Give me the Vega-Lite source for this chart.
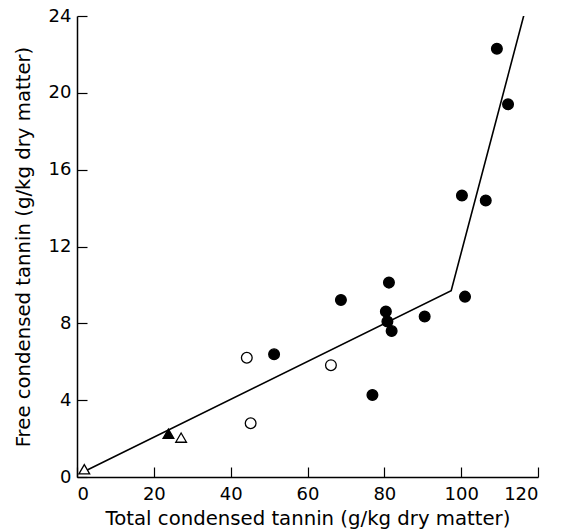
{
  "$schema": "https://vega.github.io/schema/vega-lite/v6.json",
  "autosize": "none",
  "width": 461,
  "height": 461,
  "padding": {"left": 77, "top": 16, "right": 24, "bottom": 53},
  "background": "white",
  "config": {
    "view": {"stroke": null},
    "font": "DejaVu Sans",
    "axis": {
      "grid": false,
      "domainColor": "black",
      "domainWidth": 1.5,
      "tickColor": "black",
      "tickWidth": 1.2,
      "tickSize": -10,
      "labelColor": "black",
      "labelFont": "DejaVu Sans",
      "labelFontSize": 18,
      "titleFont": "DejaVu Sans",
      "titleFontSize": 19.7,
      "titleFontWeight": "normal",
      "titleColor": "black"
    }
  },
  "layer": [
    {
      "data": {"values": [
        {"total": 2, "free": 0.3},
        {"total": 97.4, "free": 9.7},
        {"total": 116.4, "free": 24.1}
      ]},
      "mark": {"type": "line", "color": "black", "strokeWidth": 1.6, "clip": true},
      "encoding": {
        "x": {"field": "total", "type": "quantitative", "scale": {"domain": [0, 120], "nice": false},
              "axis": {"values": [0, 20, 40, 60, 80, 100, 120], "title": "Total condensed tannin (g/kg dry matter)", "labelPadding": 18, "titlePadding": 5}},
        "y": {"field": "free", "type": "quantitative", "scale": {"domain": [0, 24], "nice": false},
              "axis": {"values": [0, 4, 8, 12, 16, 20, 24], "title": "Free condensed tannin (g/kg dry matter)", "labelPadding": 16, "titlePadding": 15}}
      }
    },
    {
      "data": {"values": [
        {"total": 109.3, "free": 22.3, "marker": "circle", "fill": "filled"},
        {"total": 112.2, "free": 19.4, "marker": "circle", "fill": "filled"},
        {"total": 100.2, "free": 14.65, "marker": "circle", "fill": "filled"},
        {"total": 106.4, "free": 14.4, "marker": "circle", "fill": "filled"},
        {"total": 68.7, "free": 9.22, "marker": "circle", "fill": "filled"},
        {"total": 81.2, "free": 10.12, "marker": "circle", "fill": "filled"},
        {"total": 80.4, "free": 8.61, "marker": "circle", "fill": "filled"},
        {"total": 80.8, "free": 8.09, "marker": "circle", "fill": "filled"},
        {"total": 81.9, "free": 7.6, "marker": "circle", "fill": "filled"},
        {"total": 90.5, "free": 8.35, "marker": "circle", "fill": "filled"},
        {"total": 101.0, "free": 9.39, "marker": "circle", "fill": "filled"},
        {"total": 76.9, "free": 4.27, "marker": "circle", "fill": "filled"},
        {"total": 51.3, "free": 6.39, "marker": "circle", "fill": "filled"},
        {"total": 66.1, "free": 5.82, "marker": "circle", "fill": "open"},
        {"total": 44.2, "free": 6.21, "marker": "circle", "fill": "open"},
        {"total": 45.2, "free": 2.8, "marker": "circle", "fill": "open"},
        {"total": 23.8, "free": 2.25, "marker": "triangle", "fill": "filled"},
        {"total": 27.1, "free": 2.05, "marker": "triangle", "fill": "open"},
        {"total": 1.9, "free": 0.4, "marker": "triangle", "fill": "open"}
      ]},
      "mark": {"type": "point", "stroke": "black", "strokeWidth": 1.3, "opacity": 1, "size": 115},
      "encoding": {
        "x": {"field": "total", "type": "quantitative"},
        "y": {"field": "free", "type": "quantitative"},
        "shape": {"field": "marker", "type": "nominal", "scale": {"domain": ["circle", "triangle"], "range": ["circle", "triangle-up"]}, "legend": null},
        "fill": {"field": "fill", "type": "nominal", "scale": {"domain": ["filled", "open"], "range": ["black", "white"]}, "legend": null}
      }
    }
  ]
}
